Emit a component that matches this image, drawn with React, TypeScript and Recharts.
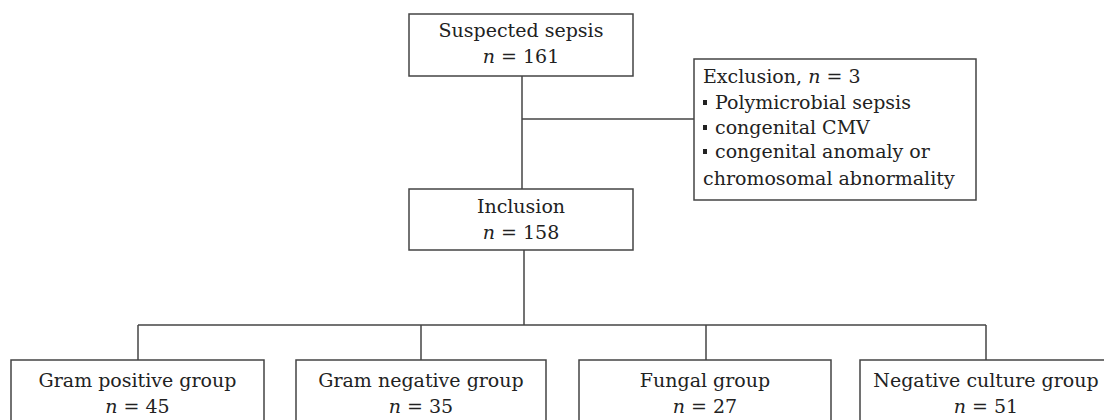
import React from 'react';
import { ComposedChart, XAxis, YAxis, Scatter, ReferenceArea, ReferenceLine } from 'recharts';

// ---- content (data) ----
const nodeTitles = ['Suspected sepsis', 'Inclusion', 'Gram positive group', 'Gram negative group', 'Fungal group', 'Negative culture group'];
const nodeCounts = [161, 158, 45, 35, 27, 51];
const exclusionTitle = 'Exclusion, ';
const exclusionCount = 3;
const exclusionReasons = ['Polymicrobial sepsis', 'congenital CMV', 'congenital anomaly or'];
const exclusionContinuation = 'chromosomal abnormality';

// ---- layout (pixel coordinates in the chart's own 0..1104 x 0..420 domain) ----
const W = 1104;
const H = 420;
const boxLayout = [
  { x1: 409, x2: 633, y1: 14, y2: 76, base: 37 },
  { x1: 409, x2: 633, y1: 189, y2: 250, base: 213 },
  { x1: 11, x2: 264, y1: 360, y2: 440, base: 387 },
  { x1: 296, x2: 546, y1: 360, y2: 440, base: 387 },
  { x1: 579, x2: 831, y1: 360, y2: 440, base: 387 },
  { x1: 860, x2: 1114, y1: 360, y2: 440, base: 387 },
];
const textCenters = [521, 521, 137.5, 421, 705, 986];
const exclusionBox = { x1: 694, x2: 976, y1: 59, y2: 200 };
const exclusionTextX = 703;
const exclusionBaselines = [83, 109, 134, 158, 185];
const lineGap = 26;
const splitY = 325;
const branchX = [138, 421, 706, 986];

const FONT = '"DejaVu Serif", serif';
const FS = 19;
const TEXT = '#222';
const STROKE = '#444';

const nodeData = nodeTitles.map((t, i) => ({
  x: textCenters[i],
  y: boxLayout[i].base,
  title: t,
  count: nodeCounts[i],
}));

const exclusionData = [
  { x: exclusionTextX, y: exclusionBaselines[0], kind: 'title', text: exclusionTitle },
  ...exclusionReasons.map((r, i) => ({ x: exclusionTextX, y: exclusionBaselines[i + 1], kind: 'bullet', text: r })),
  { x: exclusionTextX, y: exclusionBaselines[4], kind: 'plain', text: exclusionContinuation },
];

const NodeText = (props: any) => {
  const { cx, cy, payload } = props;
  return (
    <g>
      <text x={cx} y={cy} textAnchor="middle" fontFamily={FONT} fontSize={FS} fill={TEXT}>
        {payload.title}
      </text>
      <text x={cx} y={cy + lineGap} textAnchor="middle" fontFamily={FONT} fontSize={FS} fill={TEXT}>
        <tspan fontStyle="italic">n</tspan>
        <tspan> = {payload.count}</tspan>
      </text>
    </g>
  );
};

const ExclusionText = (props: any) => {
  const { cx, cy, payload } = props;
  if (payload.kind === 'title') {
    return (
      <text x={cx} y={cy} fontFamily={FONT} fontSize={FS} fill={TEXT}>
        <tspan>{payload.text}</tspan>
        <tspan fontStyle="italic">n</tspan>
        <tspan> = {exclusionCount}</tspan>
      </text>
    );
  }
  if (payload.kind === 'bullet') {
    return (
      <g>
        <rect x={cx} y={cy - 9} width={4} height={5} fill={TEXT} />
        <text x={cx + 12} y={cy} fontFamily={FONT} fontSize={FS} fill={TEXT}>
          {payload.text}
        </text>
      </g>
    );
  }
  return (
    <text x={cx} y={cy} fontFamily={FONT} fontSize={FS} fill={TEXT}>
      {payload.text}
    </text>
  );
};

const topCenter = 522;
const inclCenter = 524;

export default function App() {
  return (
    <div style={{ position: 'absolute', left: 0, top: 0, width: W, height: H, background: '#fff' }}>
      <ComposedChart width={W} height={H} margin={{ top: 0, right: 0, bottom: 0, left: 0 }}>
        <XAxis type="number" dataKey="x" domain={[0, W]} hide allowDataOverflow />
        <YAxis type="number" dataKey="y" domain={[0, H]} reversed hide allowDataOverflow />

        {/* connectors */}
        <ReferenceLine segment={[{ x: topCenter, y: boxLayout[0].y2 }, { x: topCenter, y: boxLayout[1].y1 }]} stroke={STROKE} strokeWidth={1.5} ifOverflow="visible" />
        <ReferenceLine segment={[{ x: topCenter, y: 119 }, { x: exclusionBox.x1, y: 119 }]} stroke={STROKE} strokeWidth={1.5} ifOverflow="visible" />
        <ReferenceLine segment={[{ x: inclCenter, y: boxLayout[1].y2 }, { x: inclCenter, y: splitY }]} stroke={STROKE} strokeWidth={1.5} ifOverflow="visible" />
        <ReferenceLine segment={[{ x: branchX[0], y: splitY }, { x: branchX[3], y: splitY }]} stroke={STROKE} strokeWidth={1.5} ifOverflow="visible" />
        {branchX.map((bx, i) => (
          <ReferenceLine key={i} segment={[{ x: bx, y: splitY }, { x: bx, y: 360 }]} stroke={STROKE} strokeWidth={1.5} ifOverflow="visible" />
        ))}

        {/* boxes */}
        {boxLayout.map((b, i) => (
          <ReferenceArea key={i} x1={b.x1} x2={b.x2} y1={b.y1} y2={b.y2} fill="#fff" fillOpacity={1} stroke={STROKE} strokeWidth={1.5} ifOverflow="visible" />
        ))}
        <ReferenceArea x1={exclusionBox.x1} x2={exclusionBox.x2} y1={exclusionBox.y1} y2={exclusionBox.y2} fill="#fff" fillOpacity={1} stroke={STROKE} strokeWidth={1.5} ifOverflow="visible" />

        {/* texts */}
        <Scatter data={nodeData} shape={NodeText} isAnimationActive={false} />
        <Scatter data={exclusionData} shape={ExclusionText} isAnimationActive={false} />
      </ComposedChart>
    </div>
  );
}
